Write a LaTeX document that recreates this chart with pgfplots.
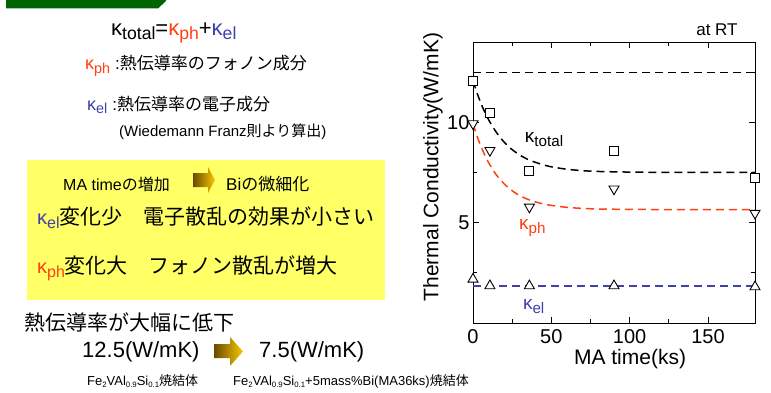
\documentclass[border=0pt]{standalone}
\usepackage{fontspec}
\setmainfont{Liberation Sans}
\newfontfamily\cjk{Noto Sans CJK JP}
\usepackage{graphicx}
\usepackage{pgfplots}
\pgfplotsset{compat=1.18}
\definecolor{kred}{RGB}{255,64,16}
\definecolor{kblue}{RGB}{64,64,170}
\definecolor{kgreen}{RGB}{0,100,0}
\definecolor{kyellow}{RGB}{255,255,102}
\definecolor{abrown}{RGB}{105,75,0}
\definecolor{agold}{RGB}{250,200,0}
\newcommand{\sub}[1]{\raisebox{-0.4ex}{\scalebox{0.8}{#1}}}
\newcommand{\ssub}[1]{\raisebox{-0.35ex}{\scalebox{0.6}{#1}}}
\newcommand{\fs}[1]{\fontsize{#1}{#1}\selectfont}
\begin{document}
\begin{tikzpicture}
\begin{scope}[shift={(0,392pt)},x=1pt,y=-1pt]
\path[use as bounding box] (0,0) rectangle (771,392);
% green banner
\fill[kgreen] (6,0) -- (166,0) -- (166,1) -- (158,8.5) -- (6,8.5) -- cycle;
% formulas
\node[anchor=west,inner sep=0] at (111,33) {\fs{22}κ\sub{total}=\textcolor{kred}{κ\sub{ph}}+\textcolor{kblue}{κ\sub{el}}};
\node[anchor=west,inner sep=0] at (85,66) {\fs{18}\textcolor{kred}{κ\sub{ph}} {\fs{17}:\cjk 熱伝導率のフォノン成分}};
\node[anchor=west,inner sep=0] at (87,105) {\fs{18}\textcolor{kblue}{κ\sub{el}} {\fs{17}:\cjk 熱伝導率の電子成分}};
\node[anchor=west,inner sep=0] at (119,132) {\fs{15}(Wiedemann Franz{\cjk 則より算出})};
% yellow box
\fill[kyellow] (27,160) rectangle (385,300);
\node[anchor=west,inner sep=0] at (63,184) {\fs{16}MA time{\cjk の増加}};
\shade[left color=abrown,right color=agold] (193,173) -- (208,173) -- (208,167) -- (215,180) -- (208,193) -- (208,187) -- (193,187) -- cycle;
\node[anchor=west,inner sep=0] at (226,184) {\fs{17}Bi{\cjk の微細化}};
\node[anchor=west,inner sep=0] at (37,218) {\textcolor{kblue}{\fs{20}κ\sub{el}}{\fs{21}\cjk 変化少　電子散乱の効果が小さい}};
\node[anchor=west,inner sep=0] at (37,268) {\textcolor{kred}{\fs{20}κ\sub{ph}}{\fs{21}\cjk 変化大　フォノン散乱が増大}};
% bottom
\node[anchor=west,inner sep=0] at (24,322) {\fs{21}\cjk 熱伝導率が大幅に低下};
\node[anchor=west,inner sep=0] at (82,352) {\fs{22}12.5(W/mK)};
\shade[left color=abrown,right color=agold] (214,344) -- (230,344) -- (230,337) -- (243,351.5) -- (230,366) -- (230,358) -- (214,358) -- cycle;
\node[anchor=west,inner sep=0] at (259,352) {\fs{22}7.5(W/mK)};
\node[anchor=west,inner sep=0] at (87,381) {\fs{13}Fe\ssub{2}VAl\ssub{0.9}Si\ssub{0.1}{\cjk 焼結体}};
\node[anchor=west,inner sep=0] at (233,381) {\fs{13}Fe\ssub{2}VAl\ssub{0.9}Si\ssub{0.1}+5mass\%Bi(MA36ks){\cjk 焼結体}};
\end{scope}
\begin{axis}[at={(473pt,69pt)},anchor=south west,
  width=282pt,height=281pt,scale only axis,
  xmin=0,xmax=180,ymin=0,ymax=14,
  xtick={0,50,100,150},minor xtick={25,75,125},
  ytick={5,10},minor ytick={2.5,7.5,12.5},
  tick align=inside,major tick length=6pt,minor tick length=4pt,
  tick style={black,line width=0.8pt},
  axis line style={line width=1pt},
  /pgf/number format/assume math mode=true,
  tick label style={font=\fs{20}},
  xticklabel style={yshift=-3pt},
  label style={font=\fs{21}},
  xlabel={MA time(ks)},ylabel={Thermal Conductivity(W/mK)},
  xlabel style={at={(rel axis cs:0.557,-0.128)},anchor=center},
  ylabel style={at={(rel axis cs:-0.142,0.555)},anchor=center},
  clip=false]
\addplot[black,line width=1.6pt,dash pattern=on 8pt off 5pt] coordinates {(0,12.48) (180,12.48)};
\addplot[black,line width=1.5pt,dash pattern=on 8pt off 5pt,smooth] coordinates {
(0,12.07) (3,11.37) (6,10.77) (9,10.27) (12,9.85) (15,9.49) (18,9.18) (21,8.92) (24,8.70) (27,8.52) (30,8.36) (35,8.15) (40,8.00) (45,7.88) (50,7.78) (60,7.66) (70,7.59) (80,7.55) (100,7.52) (130,7.50) (180,7.50)};
\addplot[kred,line width=1.5pt,dash pattern=on 8pt off 5pt,smooth] coordinates {
(0,9.93) (3,9.22) (6,8.63) (9,8.13) (12,7.72) (15,7.37) (18,7.09) (21,6.85) (24,6.65) (27,6.48) (30,6.34) (35,6.16) (40,6.03) (45,5.93) (50,5.86) (60,5.76) (70,5.71) (80,5.68) (100,5.66) (130,5.65) (180,5.65)};
\addplot[kblue,line width=1.5pt,dash pattern=on 8pt off 5pt] coordinates {(0,1.85) (180,1.85)};
\addplot[only marks,mark=square*,mark size=4.5pt,mark options={draw=black,fill=white,line width=0.9pt}] coordinates {
(0,12.07) (10.8,10.48) (36,7.57) (90,8.57) (180,7.23)};
\addplot[only marks,mark=triangle*,mark size=5.8pt,mark options={draw=black,fill=white,line width=0.9pt,rotate=180}] coordinates {
(0,9.93) (10.8,8.6) (36,5.78) (90,6.68) (180,5.47)};
\addplot[only marks,mark=triangle*,mark size=5.8pt,mark options={draw=black,fill=white,line width=0.9pt}] coordinates {
(0,2.18) (10.8,1.85) (36,1.85) (90,1.85) (180,1.8)};
\node[font=\fs{17}] at (rel axis cs:0.865,1.043) {at RT};
\node[anchor=west,inner sep=0,font=\fs{19}] at (axis cs:33,9.15) {κ\sub{total}};
\node[anchor=west,inner sep=0,font=\fs{19},text=kred] at (axis cs:29.3,4.75) {κ\sub{ph}};
\node[anchor=west,inner sep=0,font=\fs{19},text=kblue] at (axis cs:31.8,0.8) {κ\sub{el}};
\end{axis}
\end{tikzpicture}
\end{document}
